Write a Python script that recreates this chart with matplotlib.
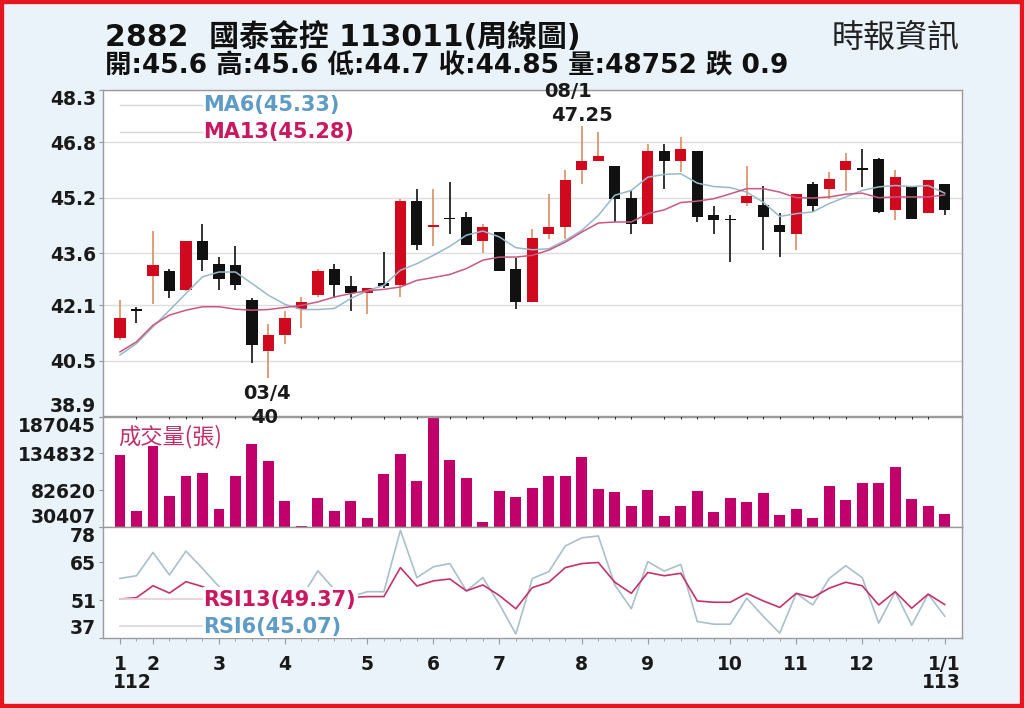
import matplotlib
matplotlib.use("Agg")
import matplotlib.pyplot as plt
from matplotlib.patches import Rectangle
import numpy as np

# weekly candles, 2882 Cathay FHC, 112/1 .. 113/1
weeks = np.arange(51)
opens = [41.15, 42.0, 42.95, 43.1, 42.55, 43.95, 43.3, 43.25, 42.25, 40.8,
         41.25, 42.0, 42.4, 43.15, 42.65, 42.45, 42.75, 42.7, 45.1, 44.35,
         44.6, 44.65, 43.95, 44.2, 43.15, 42.2, 44.15, 44.35, 46.0, 46.25,
         46.1, 45.2, 44.45, 46.55, 46.25, 46.55, 44.7, 44.6, 45.05, 45.0,
         44.4, 44.15, 45.6, 45.45, 46.0, 46.05, 46.3, 44.85, 45.55, 44.75, 45.6]
highs = [42.25, 42.05, 44.25, 43.15, 43.95, 44.45, 43.5, 43.8, 42.3, 41.55,
         41.95, 42.35, 43.15, 43.3, 42.95, 42.6, 43.65, 45.15, 45.45, 45.45,
         45.65, 44.8, 44.45, 44.2, 43.45, 44.3, 45.3, 46.0, 47.25, 47.1,
         46.1, 45.4, 46.75, 46.75, 46.95, 46.55, 44.95, 44.7, 46.1, 45.55,
         44.75, 45.3, 45.65, 45.95, 46.5, 46.6, 46.35, 46.0, 45.55, 45.7, 45.6]
lows = [41.1, 41.6, 42.15, 42.3, 42.5, 43.1, 42.55, 42.55, 40.45, 40.0,
        41.0, 41.45, 42.35, 42.3, 41.95, 41.85, 42.6, 42.35, 43.7, 43.8,
        44.15, 43.85, 43.6, 43.1, 42.0, 42.2, 44.0, 44.0, 45.6, 46.25,
        44.5, 44.15, 44.45, 45.45, 45.95, 44.5, 44.15, 43.35, 44.95, 43.7,
        43.5, 43.7, 44.8, 45.15, 45.4, 45.5, 44.75, 44.55, 44.6, 44.75, 44.7]
closes = [41.75, 41.95, 43.25, 42.5, 43.95, 43.4, 42.85, 42.7, 40.95, 41.25,
          41.75, 42.2, 43.1, 42.7, 42.45, 42.6, 42.65, 45.1, 43.85, 44.4,
          44.58, 43.85, 44.35, 43.1, 42.2, 44.05, 44.35, 45.7, 46.25, 46.4,
          45.15, 44.45, 46.55, 46.25, 46.6, 44.65, 44.55, 44.55, 45.25, 44.65,
          44.2, 45.3, 44.95, 45.75, 46.25, 46.0, 44.8, 45.8, 44.6, 45.7, 44.85]
volumes = [132790, 53525, 144580, 74760, 103060, 106840, 55880, 102120, 147890, 123350,
           66740, 32290, 70980, 53530, 67680, 43150, 105420, 133730, 95990, 187045,
           125710, 99760, 37960, 80890, 72870, 85140, 102120, 102120, 129010, 84660,
           80420, 60600, 83250, 45510, 60600, 81830, 51170, 71930, 66260, 78060,
           47390, 56360, 43150, 88440, 68150, 92690, 92690, 114860, 70040, 60600, 48752]
ma6 = [40.67, 41.0, 41.48, 41.96, 42.44, 42.92, 43.06, 43.06, 42.73, 42.39,
       42.13, 41.98, 41.98, 42.01, 42.3, 42.52, 42.68, 43.11, 43.3, 43.54,
       43.8, 44.12, 44.24, 44.07, 43.76, 43.7, 43.73, 43.97, 44.26, 44.69,
       45.27, 45.41, 45.79, 45.87, 45.89, 45.62, 45.52, 45.49, 45.36, 45.07,
       44.66, 44.74, 44.79, 45.03, 45.22, 45.41, 45.51, 45.55, 45.52, 45.55, 45.33]
ma13 = [40.76, 41.05, 41.53, 41.82, 41.96, 42.06, 42.06, 41.99, 41.96, 41.98,
        42.04, 42.1, 42.2, 42.34, 42.44, 42.52, 42.56, 42.63, 42.82, 42.9,
        42.99, 43.16, 43.4, 43.49, 43.49, 43.54, 43.69, 43.92, 44.21, 44.47,
        44.5, 44.5, 44.74, 44.85, 45.06, 45.1, 45.17, 45.31, 45.46, 45.46,
        45.36, 45.2, 45.19, 45.22, 45.3, 45.33, 45.2, 45.22, 45.22, 45.22, 45.28]
rsi6 = [59.0, 60.0, 68.6, 60.3, 69.1, 62.7, 56.0, 47.0, 38.0, 43.0,
        48.0, 52.0, 61.8, 54.9, 52.3, 54.1, 54.1, 76.8, 59.3, 63.3,
        64.5, 54.4, 59.3, 49.5, 38.5, 59.0, 61.5, 71.0, 74.0, 74.7,
        56.6, 47.8, 65.2, 61.7, 64.2, 43.1, 42.1, 42.1, 51.7, 45.0,
        38.8, 53.5, 49.2, 59.0, 63.7, 59.3, 42.5, 54.1, 41.7, 53.2, 45.07]
rsi13 = [51.4, 51.9, 56.3, 53.6, 57.8, 56.0, 53.5, 51.0, 46.0, 47.5,
         49.5, 51.0, 53.5, 52.5, 52.0, 52.3, 52.3, 63.0, 56.2, 58.1,
         58.8, 54.4, 56.6, 52.7, 47.8, 55.6, 57.6, 63.0, 64.5, 64.9,
         57.6, 53.5, 61.2, 60.0, 60.9, 50.7, 50.2, 50.2, 53.5, 50.7,
         48.3, 53.5, 51.9, 55.4, 57.6, 56.3, 49.2, 54.1, 48.0, 53.2, 49.37]

price_ticks = [38.9, 40.5, 42.1, 43.6, 45.2, 46.8, 48.3]
vol_ticks = [30407, 82620, 134832, 187045]
rsi_ticks = [37, 51, 65, 78]
month_pos = [0, 2, 6, 10, 15, 19, 23, 28, 32, 37, 41, 45, 50]
month_labels = ['1', '2', '3', '4', '5', '6', '7', '8', '9', '10', '11', '12', '1/1']

RED = '#d0091e'
RED_WICK = '#d98d62'
BLACK = '#111111'
VOL = '#c2006b'
GRAY = '#9a9a9a'
BOLD = dict(family='DejaVu Sans', fontweight='bold')
CJK = ['DejaVu Sans', 'Noto Sans CJK TC']

opens = np.array(opens)
closes = np.array(closes)

fig = plt.figure(figsize=(10.24, 7.08), dpi=100, facecolor='#eaf2fa')
L, W = 103 / 1024, 859 / 1024
ax = fig.add_axes([L, 1 - 416.5 / 708, W, 326.5 / 708])
axv = fig.add_axes([L, 1 - 527 / 708, W, 110.5 / 708], sharex=ax)
axr = fig.add_axes([L, 1 - 638 / 708, W, 111 / 708], sharex=ax)
ax.set_zorder(3)

# candles
up = closes >= opens
body_lo = np.minimum(opens, closes)
body_h = np.maximum(np.abs(closes - opens), 0.04)
ax.vlines(weeks, lows, highs, colors=np.where(up, RED_WICK, BLACK), lw=1.2, zorder=2)
ax.bar(weeks, body_h, bottom=body_lo, width=0.68, color=np.where(up, RED, BLACK), zorder=3)
ax.plot(weeks, ma6, color='#97b9cb', lw=1.1, zorder=4)
ax.plot(weeks, ma13, color='#c8587f', lw=1.1, zorder=4)

ax.set_ylim(38.9, 48.3)
ax.set_yticks(price_ticks)
ax.set_yticklabels([f'{t:.1f}' for t in price_ticks])
ax.yaxis.grid(True, color='#dddddd', lw=1)
ax.set_axisbelow(True)

# legend for moving averages
for yy, txt, c in [(0.954, 'MA6(45.33)', '#5e9cc6'), (0.871, 'MA13(45.28)', '#c8185f')]:
    ax.plot([0.02, 0.115], [yy, yy], transform=ax.transAxes, color='#d6d6d6', lw=1)
    ax.text(0.1164, yy, txt, transform=ax.transAxes, color=c, fontsize=15, va='center', **BOLD)

# high / low marks
ann = dict(textcoords='offset pixels', ha='center', va='center', fontsize=14, color='#1a1a1a',
           annotation_clip=False, **BOLD)
ax.annotate('08/1', (28, highs[28]), xytext=(-14, 35), **ann)
ax.annotate('47.25', (28, highs[28]), xytext=(0, 11), **ann)
ax.annotate('03/4', (9, lows[9]), xytext=(-1, -15), **ann)
ax.annotate('40', (9, lows[9]), xytext=(-4, -39), **ann)

# volume
axv.bar(weeks, volumes, width=0.66, color=VOL)
axv.set_ylim(30407, 187045)
axv.set_yticks(vol_ticks)
axv.set_yticklabels([str(v) for v in vol_ticks])
axv.text(0.0175, 0.82, '成交量(張)', transform=axv.transAxes, family=['Noto Sans CJK TC'],
         fontsize=16, color='#c0306a', va='center')

# RSI
axr.plot(weeks, rsi6, color='#a9c0ca', lw=1.2, zorder=2)
axr.plot(weeks, rsi13, color='#c3336a', lw=1.2, zorder=3)
axr.set_ylim(37, 78)
axr.set_yticks(rsi_ticks)
axr.set_yticklabels([str(v) for v in rsi_ticks])
axr.add_patch(Rectangle((0.1164, 0.0), 0.1805, 0.455, transform=axr.transAxes,
                        facecolor='white', edgecolor='none', zorder=5))
for yy, txt, c, lc in [(0.342, 'RSI13(49.37)', '#c8185f', '#ead0da'),
                       (0.099, 'RSI6(45.07)', '#5e9cc6', '#dcdcdc')]:
    axr.plot([0.02, 0.115], [yy + 0.01, yy + 0.01], transform=axr.transAxes, color=lc, lw=1.3, zorder=4)
    axr.text(0.1164, yy, txt, transform=axr.transAxes, color=c, fontsize=15, va='center',
             zorder=6, **BOLD)

# axes styling
for a in (ax, axv, axr):
    for s in a.spines.values():
        s.set_color(GRAY)
        s.set_linewidth(1)
    a.set_facecolor('white')
    a.tick_params(axis='y', length=3, color=GRAY, pad=2, labelsize=13.5, labelcolor='#1a1a1a')
    for lab in a.get_yticklabels():
        lab.set_fontweight('bold')
    labs = a.get_yticklabels()
    labs[0].set_verticalalignment('bottom')
    labs[-1].set_verticalalignment('top')

ax.tick_params(axis='x', bottom=False, labelbottom=False)
axv.tick_params(axis='x', bottom=False, labelbottom=False)
axr.set_xlim(-1.03, 51.05)
axr.set_xticks(month_pos)
axr.set_xticklabels(month_labels)
axr.set_xticks(weeks, minor=True)
axr.tick_params(axis='x', which='major', length=4, color=GRAY, pad=8, labelsize=13.5, labelcolor='#1a1a1a')
axr.tick_params(axis='x', which='minor', length=2.5, color=GRAY)
for lab in axr.get_xticklabels():
    lab.set_fontweight('bold')
axr.text(-0.45, -0.405, '112', transform=axr.get_xaxis_transform(), ha='left', va='center',
         fontsize=13.5, color='#1a1a1a', **BOLD)
axr.text(51.0, -0.405, '113', transform=axr.get_xaxis_transform(), ha='right', va='center',
         fontsize=13.5, color='#1a1a1a', **BOLD)

# header
fig.text(105 / 1024, 1 - 37 / 708, '2882  國泰金控 113011(周線圖)', fontsize=21.5,
         fontweight='bold', family=CJK, va='center', color='#111111')
fig.text(105 / 1024, 1 - 66 / 708, '開:45.6 高:45.6 低:44.7 收:44.85 量:48752 跌 0.9', fontsize=19,
         fontweight='bold', family=CJK, va='center', color='#111111')
fig.text(960 / 1024, 1 - 38 / 708, '時報資訊', fontsize=23, family=['Noto Sans CJK TC'],
         ha='right', va='center', color='#222222')

# red frame
fig.patches.append(Rectangle((0, 0), 1, 1, transform=fig.transFigure, fill=False,
                             edgecolor='#e5161d', lw=6))

fig.savefig('out.png', dpi=100, facecolor=fig.get_facecolor())
